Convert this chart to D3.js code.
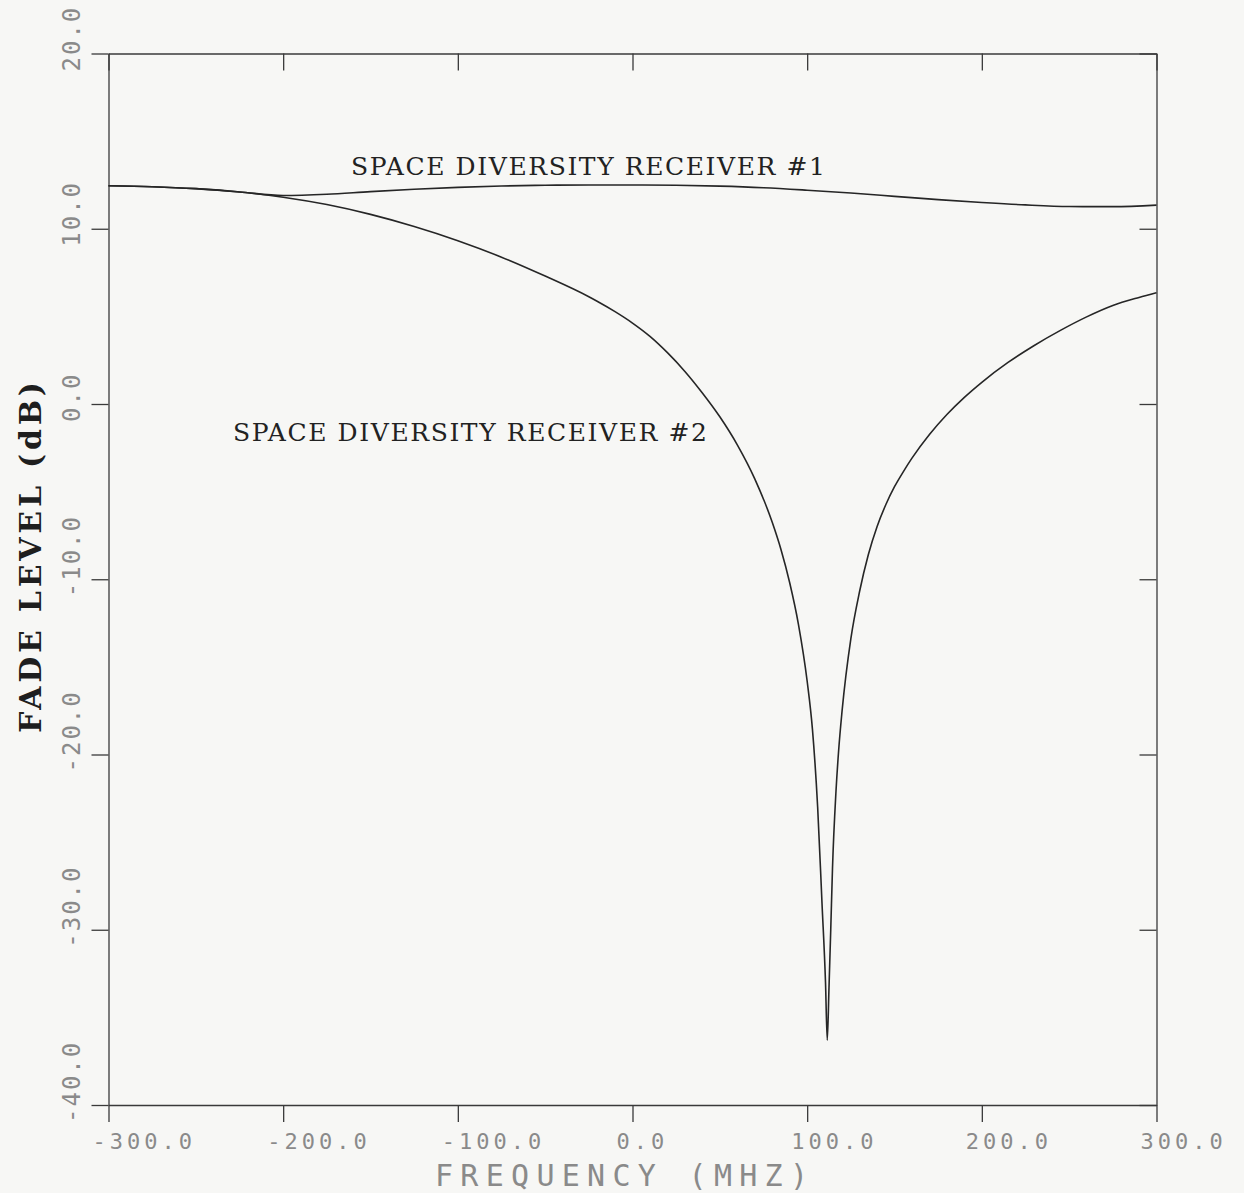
<!DOCTYPE html>
<html>
<head>
<meta charset="utf-8">
<script src="https://cdn.jsdelivr.net/npm/d3@7"></script>
<style>
  html, body { margin: 0; padding: 0; background: #f7f7f5; }
  svg { display: block; }
</style>
</head>
<body>
<script>
// Fade level vs. frequency for two space-diversity receivers
const freqTicks  = [-300, -200, -100, 0, 100, 200, 300];
const levelTicks = [20, 10, 0, -10, -20, -30, -40];
const freqTickLabels  = ["-300.0", "-200.0", "-100.0", "0.0", "100.0", "200.0", "300.0"];
const levelTickLabels = ["20.0", "10.0", "0.0", "-10.0", "-20.0", "-30.0", "-40.0"];

// Receiver #1 (MHz, dB)
const rx1Freq  = [-300, -275, -250, -225, -200, -175, -150, -125, -100, -75, -50, -25, 0,
                  25, 50, 75, 100, 125, 150, 175, 200, 225, 250, 275, 300];
const rx1Level = [12.45, 12.4, 12.29, 12.1, 11.9, 11.97, 12.12, 12.25, 12.36, 12.44, 12.48, 12.5, 12.5,
                  12.48, 12.43, 12.34, 12.2, 12.04, 11.85, 11.66, 11.5, 11.36, 11.27, 11.26, 11.35];

// Receiver #2 (MHz, dB)
const rx2Freq  = [-300, -275, -250, -225, -200, -175, -150, -125, -100, -75, -50, -25, -20, -10, 0,
                  10, 20, 30, 40, 50, 60, 70, 80, 85, 90, 95, 100, 103, 106, 108.5, 110.5, 111.5,
                  112.5, 113.5, 114.5, 116.5, 118, 120, 125, 130, 135, 140, 145, 150, 155, 160, 170, 180, 190,
                  200, 215, 230, 245, 260, 275, 290, 300];
const rx2Level = [12.45, 12.4, 12.29, 12.1, 11.8, 11.38, 10.82, 10.13, 9.32, 8.38, 7.3, 6.12, 5.85, 5.27, 4.62,
                  3.86, 2.93, 1.86, 0.63, -0.73, -2.33, -4.27, -6.75, -8.3, -10.2, -12.57, -15.82, -18.54, -23.0, -28.5, -33.0, -36.3,
                  -33.3, -30.0, -26.5, -22.1, -19.8, -17.5, -13.4, -10.7, -8.6, -7.0, -5.75, -4.72, -3.87, -3.09, -1.74, -0.6, 0.38,
                  1.24, 2.37, 3.34, 4.2, 4.97, 5.62, 6.08, 6.35];

const W = 1244, H = 1193;
const plot = { left: 108.5, right: 1156.5, top: 53.5, bottom: 1105 };
const TICK = 17;

const svg = d3.select("body").append("svg").attr("width", W).attr("height", H);
svg.append("rect").attr("width", W).attr("height", H).attr("fill", "#f7f7f5");

const x = d3.scaleLinear().domain([-300, 300]).range([plot.left, plot.right]);
const y = d3.scaleLinear().domain([-40, 20]).range([plot.bottom, plot.top]);

const axisColor = "#3a3a3a";
const plotterText = "#8a8a8a";
const plotterFont = "'DejaVu Sans Mono', monospace";

function styleAxis(g) {
  g.select(".domain").attr("stroke", axisColor).attr("stroke-width", 1.3);
  g.selectAll(".tick line").attr("stroke", axisColor).attr("stroke-width", 1.3);
  g.selectAll(".tick text").remove();
}

// Frame: outward ticks on left/bottom, inward on top/right
svg.append("g").attr("transform", `translate(0,${plot.bottom})`)
  .call(d3.axisBottom(x).tickValues(freqTicks).tickSize(TICK).tickSizeOuter(0)).call(styleAxis);
svg.append("g").attr("transform", `translate(0,${plot.top})`)
  .call(d3.axisTop(x).tickValues(freqTicks).tickSize(-TICK).tickSizeOuter(0)).call(styleAxis);
svg.append("g").attr("transform", `translate(${plot.left},0)`)
  .call(d3.axisLeft(y).tickValues(levelTicks).tickSize(TICK).tickSizeOuter(0)).call(styleAxis);
svg.append("g").attr("transform", `translate(${plot.right},0)`)
  .call(d3.axisRight(y).tickValues(levelTicks).tickSize(-TICK).tickSizeOuter(0)).call(styleAxis);

// Frequency tick labels
svg.append("g").selectAll("text").data(freqTicks).join("text")
  .attr("x", d => x(d) - 16)
  .attr("y", plot.bottom + 44)
  .attr("font-family", plotterFont)
  .attr("font-size", 22)
  .attr("letter-spacing", 4)
  .attr("fill", plotterText)
  .text((d, i) => freqTickLabels[i]);

// Level tick labels (rotated)
svg.append("g").selectAll("text").data(levelTicks).join("text")
  .attr("transform", d => `translate(80,${y(d) + 18}) rotate(-90)`)
  .attr("font-family", plotterFont)
  .attr("font-size", 24)
  .attr("letter-spacing", 2)
  .attr("fill", plotterText)
  .text((d, i) => levelTickLabels[i]);

// Axis titles
svg.append("text")
  .attr("x", 435).attr("y", 1186)
  .attr("font-family", plotterFont)
  .attr("font-size", 30)
  .attr("textLength", 373)
  .attr("lengthAdjust", "spacing")
  .attr("fill", plotterText)
  .text("FREQUENCY (MHZ)");

svg.append("text")
  .attr("transform", "translate(41,733) rotate(-90)")
  .attr("font-family", "'DejaVu Serif', serif")
  .attr("font-weight", "bold")
  .attr("font-size", 30)
  .attr("textLength", 351)
  .attr("lengthAdjust", "spacing")
  .attr("fill", "#1e1e1e")
  .text("FADE LEVEL (dB)");

// Curves
const line = d3.line().x(d => x(d[0])).y(d => y(d[1])).curve(d3.curveMonotoneX);
const rx1 = rx1Freq.map((f, i) => [f, rx1Level[i]]);
const rx2 = rx2Freq.map((f, i) => [f, rx2Level[i]]);

svg.append("path").datum(rx1).attr("d", line)
  .attr("fill", "none").attr("stroke", "#262626").attr("stroke-width", 1.6);
svg.append("path").datum(rx2).attr("d", line)
  .attr("fill", "none").attr("stroke", "#262626").attr("stroke-width", 1.6);

// Curve annotations
const annoFont = "'DejaVu Serif', serif";
svg.append("text")
  .attr("x", 351).attr("y", 175)
  .attr("font-family", annoFont).attr("font-size", 25)
  .attr("textLength", 474).attr("lengthAdjust", "spacing")
  .attr("fill", "#222")
  .text("SPACE DIVERSITY RECEIVER #1");
svg.append("text")
  .attr("x", 233).attr("y", 441)
  .attr("font-family", annoFont).attr("font-size", 25)
  .attr("textLength", 474).attr("lengthAdjust", "spacing")
  .attr("fill", "#222")
  .text("SPACE DIVERSITY RECEIVER #2");
</script>
</body>
</html>
